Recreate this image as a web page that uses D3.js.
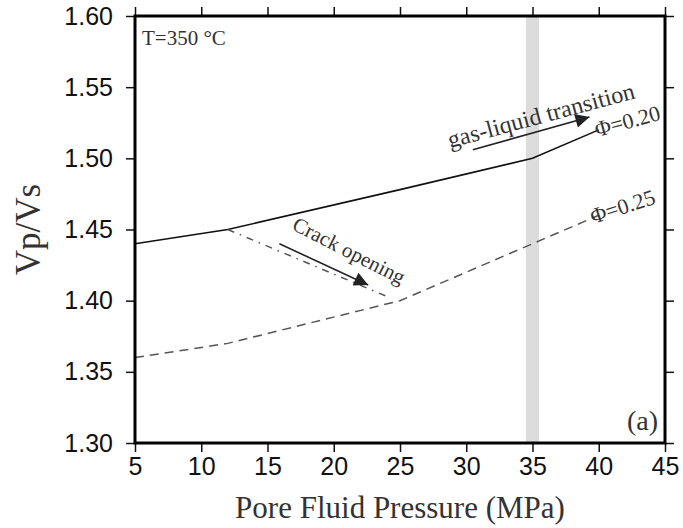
<!DOCTYPE html>
<html>
<head>
<meta charset="utf-8">
<script src="https://cdn.jsdelivr.net/npm/d3@7"></script>
<style>
  body { margin: 0; background: #fff; }
  svg { display: block; }
</style>
</head>
<body>
<svg id="chart" width="683" height="528"></svg>
<script>
// pressure (MPa) / Vp/Vs
const phi20 = [[5, 1.44], [12, 1.45], [25, 1.478], [35, 1.50], [40, 1.52]]
const phi25 = [[5, 1.36], [12, 1.37], [25, 1.40], [35, 1.44], [40, 1.46]]
const crack = [[12, 1.45], [24, 1.403]]
const band = [34.5, 35.5]
const xTicks = [5, 10, 15, 20, 25, 30, 35, 40, 45]
const yTicks = [1.30, 1.35, 1.40, 1.45, 1.50, 1.55, 1.60]
// arrows: [start, end] in data units
const gasArrow = [[30.5, 1.506], [39.3, 1.529]]
const crackArrow = [[15.9, 1.44], [22.6, 1.411]]

const margin = {top: 16, right: 18, bottom: 85, left: 135}
const width = 683, height = 528
const serif = "'Liberation Serif', 'Times New Roman', serif"
const sans = "'Liberation Sans', Arial, sans-serif"

const svg = d3.select("#chart")

const x = d3.scaleLinear().domain([5, 45]).range([margin.left, width - margin.right])
const y = d3.scaleLinear().domain([1.30, 1.60]).range([height - margin.bottom, margin.top])

svg.append("defs").append("marker")
    .attr("id", "head")
    .attr("viewBox", "0 0 10 10")
    .attr("refX", 10).attr("refY", 5)
    .attr("markerWidth", 19).attr("markerHeight", 14)
    .attr("markerUnits", "userSpaceOnUse")
    .attr("orient", "auto")
    .append("path")
    .attr("d", "M0,0L10,5L0,10Z")
    .attr("fill", "#222")

// grey band at the gas-liquid transition
svg.append("rect")
    .attr("x", x(band[0]))
    .attr("y", y(1.60))
    .attr("width", x(band[1]) - x(band[0]))
    .attr("height", y(1.30) - y(1.60))
    .attr("fill", "#dcdcdc")

const line = d3.line().x(d => x(d[0])).y(d => y(d[1]))

svg.append("path").datum(phi20)
    .attr("d", line)
    .attr("fill", "none").attr("stroke", "#111").attr("stroke-width", 1.6)

svg.append("path").datum(phi25)
    .attr("d", line)
    .attr("fill", "none").attr("stroke", "#555").attr("stroke-width", 1.5)
    .attr("stroke-dasharray", "9,6")

svg.append("path").datum(crack)
    .attr("d", line)
    .attr("fill", "none").attr("stroke", "#555").attr("stroke-width", 1.5)
    .attr("stroke-dasharray", "7,6,1.5,6")

// arrows
for (const a of [gasArrow, crackArrow]) {
    svg.append("line")
        .attr("x1", x(a[0][0])).attr("y1", y(a[0][1]))
        .attr("x2", x(a[1][0])).attr("y2", y(a[1][1]))
        .attr("stroke", "#222").attr("stroke-width", 1.6)
        .attr("marker-end", "url(#head)")
}

// axes (ticks outward on all four sides)
const tick = 9
const xAxis = g => g
    .attr("transform", `translate(0,${y(1.30)})`)
    .call(d3.axisBottom(x).tickValues(xTicks).tickSize(tick).tickPadding(5).tickFormat(d3.format("d")))
const xTop = g => g
    .attr("transform", `translate(0,${y(1.60)})`)
    .call(d3.axisTop(x).tickValues(xTicks).tickSize(tick).tickFormat(""))
const yAxis = g => g
    .attr("transform", `translate(${x(5)},0)`)
    .call(d3.axisLeft(y).tickValues(yTicks).tickSize(tick).tickPadding(13).tickFormat(d3.format(".2f")))
const yRight = g => g
    .attr("transform", `translate(${x(45)},0)`)
    .call(d3.axisRight(y).tickValues(yTicks).tickSize(tick).tickFormat(""))

for (const ax of [xAxis, xTop, yAxis, yRight]) {
    svg.append("g").call(ax)
        .call(g => g.select(".domain").remove())
        .call(g => g.selectAll(".tick line").attr("stroke", "#111").attr("stroke-width", 1.5))
        .call(g => g.selectAll(".tick text").attr("font-family", sans).attr("font-size", 25).attr("fill", "#111"))
}

// frame
svg.append("rect")
    .attr("x", x(5)).attr("y", y(1.60))
    .attr("width", x(45) - x(5)).attr("height", y(1.30) - y(1.60))
    .attr("fill", "none").attr("stroke", "#000").attr("stroke-width", 3)

// axis titles
svg.append("text")
    .attr("x", (x(5) + x(45)) / 2).attr("y", 518)
    .attr("text-anchor", "middle")
    .attr("font-family", serif).attr("font-size", 31).attr("fill", "#333")
    .text("Pore Fluid Pressure (MPa)")

svg.append("text")
    .attr("transform", `translate(40,${(y(1.30) + y(1.60)) / 2}) rotate(-90)`)
    .attr("text-anchor", "middle")
    .attr("font-family", serif).attr("font-size", 35).attr("fill", "#333")
    .text("Vp/Vs")

// annotations
const note = (txt, px, py, angle, size, anchor) => svg.append("text")
    .attr("transform", `translate(${px},${py}) rotate(${angle})`)
    .attr("text-anchor", anchor || "start")
    .attr("font-family", serif).attr("font-size", size).attr("fill", "#333")
    .text(txt)

note("T=350 °C", x(5) + 7, y(1.60) + 29, 0, 21)
note("gas-liquid transition", 450, 148, -15, 24)
note("Φ=0.20", 597, 137, -15, 22)
note("Φ=0.25", 593, 224, -18, 22)
note("Crack opening", 291, 229, 27, 21)
note("(a)", x(45) - 7, y(1.30) - 13, 0, 28, "end")
</script>
</body>
</html>
